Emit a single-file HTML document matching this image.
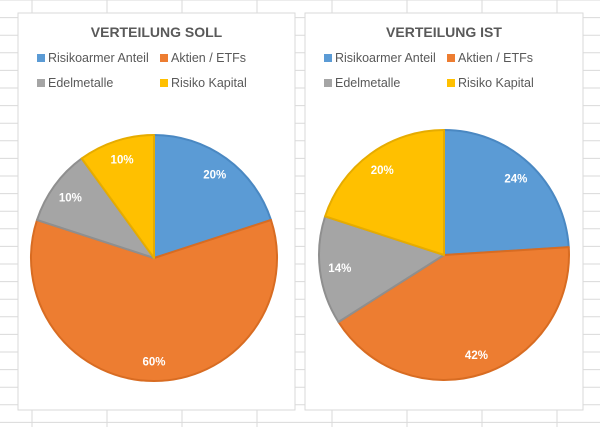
<!DOCTYPE html>
<html><head><meta charset="utf-8"><style>
body{margin:0;width:600px;height:427px;overflow:hidden;background:#fff;font-family:"Liberation Sans",sans-serif}
</style></head><body>
<svg id="s" width="600" height="427" xmlns="http://www.w3.org/2000/svg"></svg>
<script>
const categories=["Risikoarmer Anteil","Aktien / ETFs","Edelmetalle","Risiko Kapital"];
const colors=["#5b9bd5","#ed7d31","#a5a5a5","#ffc000"];
const strokes=["#4a88c2","#d86c22","#8f8f8f","#e6ac00"];
const sollValues=[20,60,10,10];
const istValues=[24,42,14,20];
const titles=["VERTEILUNG SOLL","VERTEILUNG IST"];
const NS="http://www.w3.org/2000/svg";
const s=document.getElementById('s');
function mk(t,a,p){const e=document.createElementNS(NS,t);for(const k in a)e.setAttribute(k,a[k]);(p||s).appendChild(e);return e;}
// grid
const g=mk('g',{});


for(let x=32;x<600;x+=75)mk('line',{x1:x,y1:0,x2:x,y2:427,stroke:'#dadada','stroke-width':1},g);
for(let y=0;y<427;y+=17.6)mk('line',{x1:0,y1:y,x2:600,y2:y,stroke:'#dadada','stroke-width':1},g);
const panels=[{x:18,w:277,cx:154,cy:258,r:123,vals:sollValues},{x:305,w:278,cx:444,cy:255,r:125,vals:istValues}];
panels.forEach((p,pi)=>{
 const cg=mk('g',{});
 
 
 mk('rect',{x:p.x,y:13,width:p.w,height:397,fill:'#fff',stroke:'#d9d9d9'},cg);
 const t=mk('text',{x:p.x+p.w/2,y:37,'text-anchor':'middle','font-size':14,'font-weight':'bold',fill:'#595959'},cg);
 t.textContent=titles[pi];
 
 
 const lx=[p.x+19,p.x+142],ly=[62,87];
 categories.forEach((c,i)=>{
  const lg=mk('g',{},cg);
  
  
  const X=lx[i%2],Y=ly[Math.floor(i/2)];
  mk('rect',{x:X,y:Y-8,width:8,height:8,fill:colors[i]},lg);
  const tt=mk('text',{x:X+11,y:Y,'font-size':12.5,fill:'#595959'},lg);
  tt.textContent=c;
 });
 const tot=p.vals.reduce((a,b)=>a+b,0);
 let a0=0;
 p.vals.forEach((v,i)=>{
  const a1=a0+v/tot*2*Math.PI;
  const x0=p.cx+p.r*Math.sin(a0),y0=p.cy-p.r*Math.cos(a0),x1=p.cx+p.r*Math.sin(a1),y1=p.cy-p.r*Math.cos(a1);
  const sl=mk('path',{d:`M${p.cx},${p.cy}L${x0},${y0}A${p.r},${p.r} 0 ${a1-a0>Math.PI?1:0} 1 ${x1},${y1}Z`,fill:colors[i],stroke:strokes[i],'stroke-width':2,'stroke-linejoin':'round'},cg);
  
  
  const am=(a0+a1)/2,rr=p.r*0.84;
  const lb=mk('text',{x:p.cx+rr*Math.sin(am),y:p.cy-rr*Math.cos(am)+4,'text-anchor':'middle','font-size':11.5,'font-weight':'bold',fill:'#fff'},cg);
  lb.textContent=Math.round(v/tot*100)+'%';
  
  
  a0=a1;
 });
});
</script>
</body></html>
